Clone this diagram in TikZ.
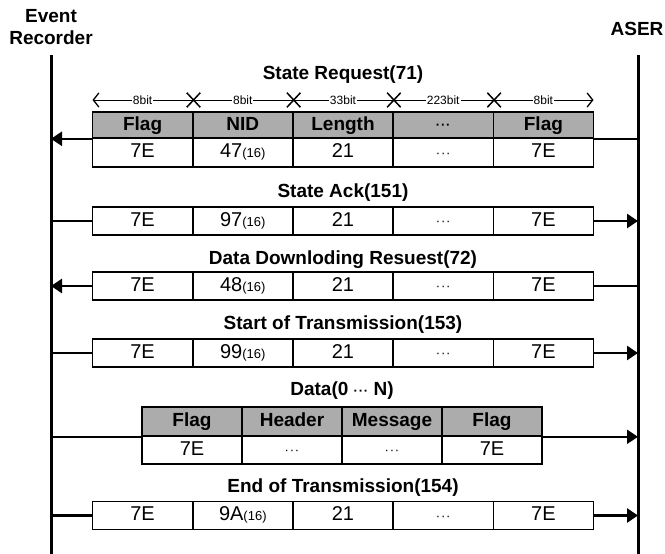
\documentclass[tikz,border=0pt]{standalone}
\usepackage{fontspec}
\setmainfont{Liberation Sans}
\usetikzlibrary{arrows.meta,shapes.misc}
\newcommand\hexv[1]{#1{\fontsize{13}{13}\selectfont(16)}}
\newcommand\dd{\raisebox{0.5pt}{\fontsize{13}{13}\selectfont\textperiodcentered\kern0.8pt\textperiodcentered\kern0.8pt\textperiodcentered}}
\begin{document}
\begin{tikzpicture}[x=1pt,y=-1pt,
  lifeline/.style={line width=3pt},
  msg/.style={line width=2.6pt},
  datamsg/.style={line width=2pt},
  field/.style={draw,line width=1.6pt,minimum width=100.2pt,inner sep=0pt,anchor=center,text height=14pt,text depth=3.5pt},
  whitefield/.style={field,fill=white,minimum height=28pt,font=\fontsize{20}{20}\selectfont},
  grayfield/.style={field,fill=gray!65,minimum height=26pt,font=\fontsize{19}{19}\selectfont\bfseries},
  title/.style={font=\fontsize{19}{19}\selectfont\bfseries},
  bitlabel/.style={font=\fontsize{12}{12}\selectfont,fill=white,inner sep=1pt},
  head/.style={-{Triangle[length=11pt,width=14pt]}},
  bitarrow/.style={line width=1pt,{Straight Barb[length=5.5pt,width=14pt,line width=1.3pt]}-{Straight Barb[length=5.5pt,width=14pt,line width=1.3pt]}},
  xmark/.style={cross out,draw,line width=1.5pt,minimum width=12pt,minimum height=13pt,inner sep=0pt},
]
\useasboundingbox (0,0) rectangle (665,554);

% actors
\node[title,align=center] (er) at (51,27) {Event\\[3pt]Recorder};
\node[title] (aser) at (637,29) {ASER};
\coordinate (ERtop) at (51,55);
\coordinate (ERbot) at (51,554);
\coordinate (AStop) at (638,55);
\coordinate (ASbot) at (638,554);
\draw[lifeline] (ERtop) -- (ERbot);
\draw[lifeline] (AStop) -- (ASbot);

% ---- State Request(71)
\node[title] (t1) at (343,75) {State Request(71)};
\foreach \v [count=\i] in {Flag,NID,Length,\dd,Flag}
  \node[grayfield] (g1-\i) at ({92.5+100.2*(\i-0.5)},125) {\v};
\foreach \v [count=\i] in {7E,{\hexv{47}},21,\dd,7E}
  \node[whitefield,minimum height=29pt] (w1-\i) at ({92.5+100.2*(\i-0.5)},152.5) {\v};
\coordinate (bitL) at (92.5,100);
\coordinate (bitR) at (593.5,100);
\draw[bitarrow] (bitL) -- (bitR);
\foreach \i in {1,...,4}
  \node[xmark] (x\i) at (g1-\i.east |- bitL) {};
\foreach \v [count=\i] in {8bit,8bit,33bit,223bit,8bit}
  \node[bitlabel] (bl\i) at (g1-\i.center |- bitL) {\v};
\draw[msg] (g1-5.south east) -- (g1-5.south east -| AStop);
\draw[msg,head] (g1-1.south west) -- (g1-1.south west -| ERtop);

% ---- State Ack(151)
\node[title] (t2) at (343,193) {State Ack(151)};
\foreach \v [count=\i] in {7E,{\hexv{97}},21,\dd,7E}
  \node[whitefield] (w2-\i) at ({92.5+100.2*(\i-0.5)},221) {\v};
\draw[msg] (w2-1.west) -- (w2-1.west -| ERtop);
\draw[msg,head] (w2-5.east) -- (w2-5.east -| AStop);

% ---- Data Downloding Resuest(72)
\node[title] (t3) at (343,260) {Data Downloding Resuest(72)};
\foreach \v [count=\i] in {7E,{\hexv{48}},21,\dd,7E}
  \node[whitefield] (w3-\i) at ({92.5+100.2*(\i-0.5)},286) {\v};
\draw[msg] (w3-5.east) -- (w3-5.east -| AStop);
\draw[msg,head] (w3-1.west) -- (w3-1.west -| ERtop);

% ---- Start of Transmission(153)
\node[title] (t4) at (343,325) {Start of Transmission(153)};
\foreach \v [count=\i] in {7E,{\hexv{99}},21,\dd,7E}
  \node[whitefield] (w4-\i) at ({92.5+100.2*(\i-0.5)},353) {\v};
\draw[msg] (w4-1.west) -- (w4-1.west -| ERtop);
\draw[msg,head] (w4-5.east) -- (w4-5.east -| AStop);

% ---- Data(0 ... N)
\node[title] (t5) at (342,391) {Data(0 \dd\ N)};
\foreach \v [count=\i] in {Flag,Header,Message,Flag}
  \node[grayfield,minimum width=100pt,minimum height=29pt] (dg\i) at ({142+100*(\i-0.5)},421.5) {\v};
\foreach \v [count=\i] in {7E,\dd,\dd,7E}
  \node[whitefield,minimum width=100pt] (dw\i) at ({142+100*(\i-0.5)},450) {\v};
\draw[datamsg] (dg1.south west) -- (dg1.south west -| ERtop);
\draw[datamsg,head] (dg4.south east) -- (dg4.south east -| AStop);

% ---- End of Transmission(154)
\node[title] (t6) at (343,488) {End of Transmission(154)};
\foreach \v [count=\i] in {7E,{\hexv{9A}},21,\dd,7E}
  \node[whitefield] (w6-\i) at ({92.5+100.2*(\i-0.5)},515.5) {\v};
\draw[msg] (w6-1.west) -- (w6-1.west -| ERtop);
\draw[msg,head] (w6-5.east) -- (w6-5.east -| AStop);
\end{tikzpicture}
\end{document}
